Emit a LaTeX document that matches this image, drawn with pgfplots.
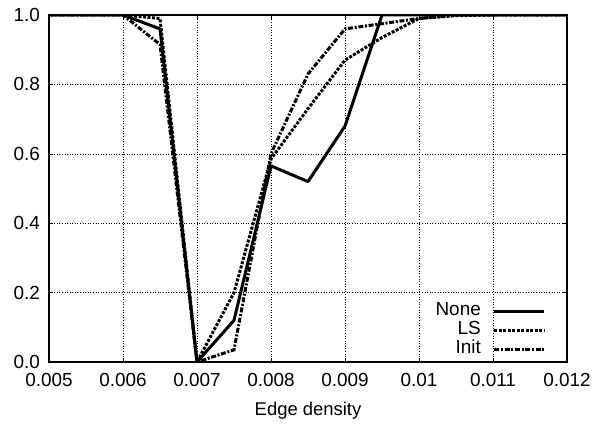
\documentclass[border=0pt]{standalone}
\usepackage{pgfplots}
\pgfplotsset{compat=1.18}
\usepackage{fontspec}
\setmainfont{Liberation Sans}
\pgfplotsset{
  every axis legend/.append style={legend image code/.code={\draw[#1] (0bp,0bp) -- (50bp,0bp);}}
}

\pgfplotstableread{
x      none  ls    init
0.005  1.00  1.00  1.00
0.0055 1.00  1.00  1.00
0.006  1.00  1.00  1.00
0.0065 0.96  0.99  0.915
0.007  0.00  0.00  0.00
0.0075 0.12  0.20  0.035
0.008  0.565 0.585 0.60
0.0085 0.52  0.73  0.83
0.009  0.68  0.87  0.96
0.0095 1.00  0.935 0.975
0.01   1.00  0.99  0.99
0.0105 1.00  0.998 1.00
0.011  1.00  1.00  1.00
0.0115 1.00  1.00  1.00
0.012  1.00  1.00  1.00
}\datatab

\begin{document}
\begin{tikzpicture}
\begin{axis}[
  name=ax,
  scale only axis,
  width=518bp, height=347bp,
  xmin=0.005, xmax=0.012,
  ymin=0, ymax=1,
  xtick={0.005,0.006,0.007,0.008,0.009,0.01,0.011,0.012},
  xticklabels={0.005,0.006,0.007,0.008,0.009,0.01,0.011,0.012},
  ytick={0,0.2,0.4,0.6,0.8,1.0},
  yticklabels={0.0,0.2,0.4,0.6,0.8,1.0},
  scaled x ticks=false,
  tick label style={font=\fontsize{19}{21}\selectfont},
  yticklabel style={xshift=-5.5bp},
  xticklabel style={yshift=-7.5bp},
  label style={font=\fontsize{18.5}{21}\selectfont},
  xlabel={Edge density},
  xlabel style={yshift=-9bp},
  grid=major,
  major grid style={black, line width=0.6pt, dotted},
  axis line style={line width=1.6pt},
  tick style={black, line width=0.6pt},
  major tick length=4bp,
  legend plot pos=right,
  legend cell align=right,
  legend style={draw=none, fill=none, at={(0.9595,0.0086)}, anchor=south east,
    font=\fontsize{19}{21}\selectfont, inner sep=0pt, row sep=0pt, column sep=12bp,
    nodes={inner sep=0pt, text height=14bp, text depth=5bp}},
]
\addplot[black, line width=3bp, line join=round] table[x=x, y=none] {\datatab};
\addlegendentry{None}
\addplot[black, line width=3bp, dash pattern=on 3pt off 1.5pt] table[x=x, y=ls] {\datatab};
\addlegendentry{LS}
\addplot[black, line width=3bp, dash pattern=on 5pt off 1.7pt on 2pt off 1.7pt] table[x=x, y=init] {\datatab};
\addlegendentry{Init}
\end{axis}
\path (ax.south west) ++(-49bp,-62bp) coordinate (bl);
\path (ax.north east) ++(38bp,15bp) coordinate (tr);
\useasboundingbox (bl) rectangle (tr);
\end{tikzpicture}
\end{document}
